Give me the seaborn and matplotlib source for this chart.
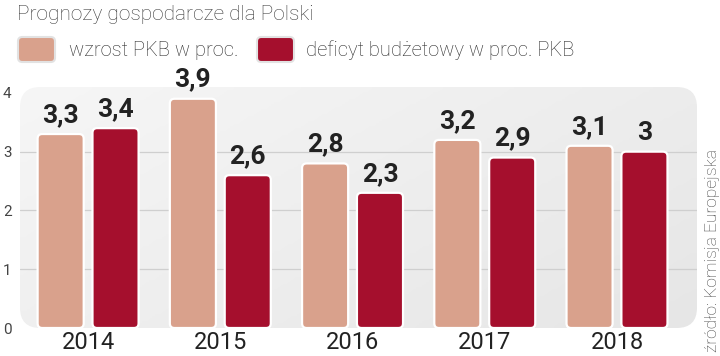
import numpy as np
import pandas as pd
import matplotlib
matplotlib.use("Agg")
import matplotlib.pyplot as plt
import seaborn as sns
from matplotlib.patches import FancyBboxPatch

years = ["2014", "2015", "2016", "2017", "2018"]
pkb_growth = [3.3, 3.9, 2.8, 3.2, 3.1]
budget_deficit = [3.4, 2.6, 2.3, 2.9, 3.0]
series_names = ["wzrost PKB w proc.", "deficyt budżetowy w proc. PKB"]
colors = ["#d9a18c", "#a50f2d"]

df = pd.DataFrame({
    "rok": years * 2,
    "wartosc": pkb_growth + budget_deficit,
    "seria": [series_names[0]] * len(years) + [series_names[1]] * len(years),
})

sns.set_theme(style="white")
plt.rcParams["font.family"] = ["Roboto", "DejaVu Sans"]

fig = plt.figure(figsize=(7.2, 3.56), dpi=100)
ax = fig.add_axes([20 / 720, 28 / 356, 677 / 720, 241 / 356])

sns.barplot(data=df, x="rok", y="wartosc", hue="seria", palette=colors,
            saturation=1, width=0.83, gap=0.16, dodge=True, legend=False,
            ax=ax, zorder=3)

# rounded bars with white rim
bars = list(ax.patches)
for p in bars:
    x, y = p.get_x(), p.get_y()
    w, h = p.get_width(), p.get_height()
    fc = p.get_facecolor()
    p.remove()
    fb = FancyBboxPatch((x, y), w, h,
                        boxstyle="round,pad=0,rounding_size=0.035",
                        mutation_aspect=2.25, facecolor=fc,
                        edgecolor="white", linewidth=1.6, zorder=3)
    ax.add_patch(fb)
    txt = f"{h:g}".replace(".", ",")
    ax.text(x + w / 2, h + 0.12, txt, ha="center", va="bottom",
            fontsize=19, fontweight="bold", color="#222222",
            fontstretch="condensed", zorder=4)

# background rounded panel with soft gradient
bg = FancyBboxPatch((0, 0), 1, 1, boxstyle="round,pad=0,rounding_size=0.03",
                    mutation_aspect=677 / 241, transform=ax.transAxes,
                    facecolor="none", edgecolor="none", zorder=0)
ax.add_patch(bg)
gx, gy = np.meshgrid(np.linspace(0, 1, 200), np.linspace(0, 1, 100))
grad = 0.6 * gx + 0.4 * gy
img = ax.imshow(grad, extent=[0, 1, 0, 1], transform=ax.transAxes,
                cmap=matplotlib.colors.LinearSegmentedColormap.from_list(
                    "bg", ["#f6f6f6", "#e6e6e6"]),
                aspect="auto", zorder=0, origin="upper")
img.set_clip_path(bg)
ax.set_xlim(-0.515, 4.605)
ax.set_ylim(0, 4.1)

for yv in [1, 2, 3]:
    ax.axhline(yv, color="#cfcfcf", linewidth=0.9, zorder=1)

for s in ax.spines.values():
    s.set_visible(False)
ax.set_yticks([0, 1, 2, 3, 4])
ax.set_yticklabels(["0", "1", "2", "3", "4"])
ax.tick_params(axis="y", length=0, pad=6, labelsize=11, labelcolor="#444444")
ax.tick_params(axis="x", length=0, pad=2, labelsize=17, labelcolor="#222222")
ax.set_xlabel("")
ax.set_ylabel("")

# title and legend
fig.text(17 / 720, 1 - 15 / 356, "Prognozy gospodarcze dla Polski",
         fontsize=15, fontweight="light", color="#3a3a3a", va="center")

legend_items = [(18, 69), (257, 306)]
for (bx, tx), name, col in zip(legend_items, series_names, colors):
    sq = FancyBboxPatch((bx / 720, 1 - 62 / 356), 37 / 720, 25 / 356,
                        boxstyle="round,pad=0,rounding_size=0.006",
                        mutation_aspect=720 / 356, transform=fig.transFigure,
                        facecolor=col, edgecolor="#e2e2e2", linewidth=1.5)
    fig.patches.append(sq)
    fig.text(tx / 720, 1 - 50 / 356, name, fontsize=14.5, fontweight="light",
             color="#2a2a2a", va="center")

fig.text(712 / 720, 4 / 356, "źródło: Komisja Europejska", rotation=90,
         fontsize=12.5, fontweight="light", color="#444444",
         ha="center", va="bottom")

fig.savefig("out.png", dpi=100)
